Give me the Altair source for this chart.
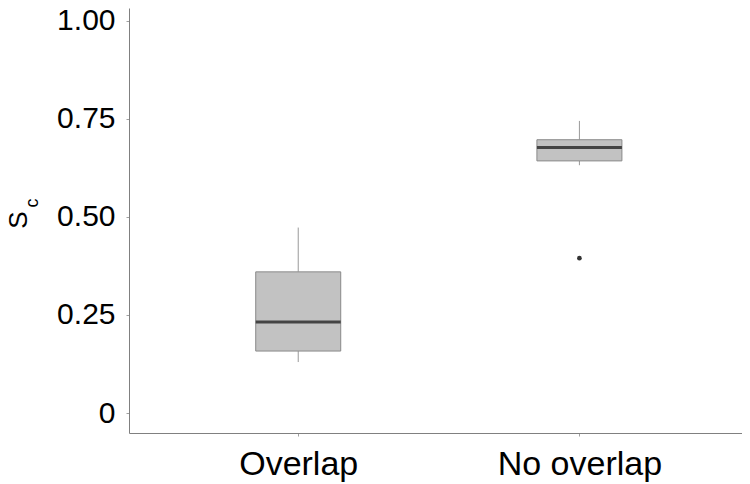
import altair as alt
import pandas as pd

groups = ["Overlap", "No overlap"]
whisker_low = [0.13, 0.632]
q1 = [0.158, 0.643]
median = [0.232, 0.677]
q3 = [0.360, 0.697]
whisker_high = [0.473, 0.745]
outlier_group = ["No overlap"]
outlier_value = [0.395]

tick_values = [0, 0.25, 0.5, 0.75, 1.0]

box = pd.DataFrame({"group": groups, "lo": whisker_low, "q1": q1,
                    "med": median, "q3": q3, "hi": whisker_high})
out = pd.DataFrame({"group": outlier_group, "value": outlier_value})

label_expr = "datum.value == 0 ? '0' : format(datum.value, '.2f')"

xscale = alt.Scale(type="point", domain=groups, padding=0.59, align=0.51)
yscale = alt.Scale(domain=[-0.051, 1.033], nice=False, zero=False)

xenc = alt.X("group:N", scale=xscale, sort=groups,
             axis=alt.Axis(title=None, labelAngle=0, labelFontSize=34,
                           labelColor="black", labelFont="Liberation Sans",
                           tickSize=3, labelPadding=11, domainColor="#808080",
                           tickColor="#a0a0a0", grid=False))
yaxis = alt.Axis(title=None, values=tick_values, labelExpr=label_expr,
                 labelFontSize=30, labelColor="black", labelFont="Liberation Sans",
                 tickSize=3, labelPadding=11, domainColor="#808080",
                 tickColor="#a0a0a0", grid=False)

base = alt.Chart(box)

whisk_up = base.mark_rule(color="#999999", strokeWidth=1).encode(
    x=xenc, y=alt.Y("q3:Q", scale=yscale, axis=yaxis), y2="hi:Q")
whisk_dn = base.mark_rule(color="#999999", strokeWidth=1).encode(
    x=xenc, y=alt.Y("lo:Q", scale=yscale), y2="q1:Q")
bars = base.mark_bar(size=85, color="#c2c2c2", stroke="#8a8a8a",
                     strokeWidth=1, opacity=1).encode(
    x=xenc, y=alt.Y("q1:Q", scale=yscale), y2="q3:Q")
med = base.mark_tick(size=85, thickness=3, color="#444444", opacity=1).encode(
    x=xenc, y=alt.Y("med:Q", scale=yscale))
pts = alt.Chart(out).mark_circle(size=22, color="#333333", opacity=1).encode(
    x=xenc, y=alt.Y("value:Q", scale=yscale))

title_df = pd.DataFrame({"t": ["S"], "s": ["c"]})
title_s = alt.Chart(title_df).mark_text(
    fontSize=26, font="Liberation Sans", angle=270, align="center",
    baseline="alphabetic", color="black").encode(
    text="t:N", x=alt.value(-102), y=alt.value(212))
title_c = alt.Chart(title_df).mark_text(
    fontSize=18, font="Liberation Sans", angle=270, align="center",
    baseline="alphabetic", color="black").encode(
    text="s:N", x=alt.value(-91), y=alt.value(195))

chart = alt.layer(whisk_up, whisk_dn, bars, med, pts, title_s, title_c).properties(
    width=613, height=425,
    autosize=alt.AutoSizeParams(type="none"),
    padding={"left": 121, "top": 0, "right": 0, "bottom": 49},
    background="white",
).configure_view(stroke=None)

chart.save("out.html", embed_options={"renderer": "svg", "actions": False})
